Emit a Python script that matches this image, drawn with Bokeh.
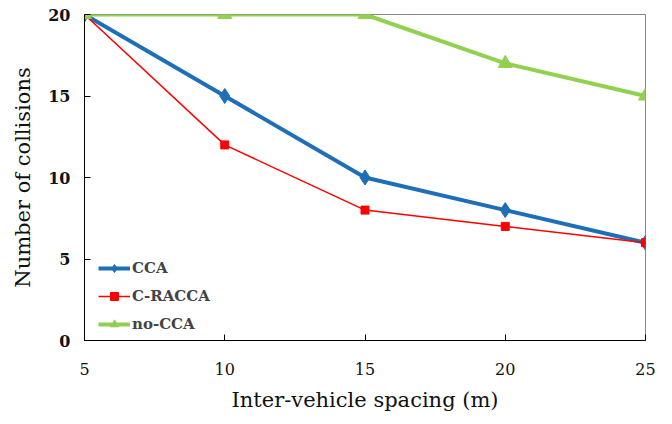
from bokeh.plotting import figure
from bokeh.models import Range1d, FixedTicker, Legend, LegendItem
from bokeh.embed import file_html
from bokeh.resources import INLINE

spacing = [5, 10, 15, 20, 25]
cca = [20, 15, 10, 8, 6]
c_racca = [20, 12, 8, 7, 6]
no_cca = [20, 20, 20, 17, 15]
x_ticks = [5, 10, 15, 20, 25]
y_ticks = [0, 5, 10, 15, 20]

p = figure(width=672, height=424, output_backend="svg", toolbar_location=None,
           x_range=Range1d(5, 25), y_range=Range1d(0, 20),
           min_border_left=84, min_border_right=27, min_border_top=14, min_border_bottom=84)
p.grid.visible = False
p.outline_line_color = "#888888"
p.outline_line_width = 1
p.background_fill_color = "white"

serif = "DejaVu Serif"
for ax in (p.xaxis[0], p.yaxis[0]):
    ax.axis_line_color = "black"
    ax.axis_line_width = 1
    ax.major_tick_in = 6
    ax.major_tick_out = 0
    ax.minor_tick_line_color = None
    ax.major_label_text_font = serif
    ax.axis_label_text_font = serif
    ax.axis_label_text_font_style = "normal"
    ax.axis_label_text_color = "#111111"
    ax.major_label_text_color = "#111111"

p.xaxis.ticker = FixedTicker(ticks=x_ticks)
p.yaxis.ticker = FixedTicker(ticks=y_ticks)
p.xaxis.major_label_text_font_size = "16px"
p.yaxis.major_label_text_font_size = "16px"
p.yaxis.major_label_text_font_style = "bold"
p.xaxis.major_label_standoff = 22
p.yaxis.major_label_standoff = 14
p.xaxis.axis_label = "Inter-vehicle spacing (m)"
p.yaxis.axis_label = "Number of collisions"
p.xaxis.axis_label_text_font_size = "21px"
p.yaxis.axis_label_text_font_size = "21px"
p.xaxis.axis_label_standoff = 10
p.yaxis.axis_label_standoff = 10

blue = "#1F6FB8"
red = "#FF0000"
green = "#92D050"

l1 = p.line(spacing, cca, line_color=blue, line_width=4)
m1 = p.scatter(spacing, cca, marker="diamond", size=15, fill_color=blue, line_color=blue)
l2 = p.line(spacing, c_racca, line_color=red, line_width=1.5)
m2 = p.scatter(spacing, c_racca, marker="square", size=8, fill_color=red, line_color=red)
l3 = p.line(spacing, no_cca, line_color=green, line_width=4)
m3 = p.scatter(spacing, no_cca, marker="triangle", size=14, fill_color=green, line_color=green)

legend = Legend(items=[LegendItem(label="CCA", renderers=[l1, m1]),
                       LegendItem(label="C-RACCA", renderers=[l2, m2]),
                       LegendItem(label="no-CCA", renderers=[l3, m3])],
                location=(14, 6), background_fill_alpha=0, border_line_color=None,
                label_text_font=serif, label_text_font_style="bold",
                label_text_font_size="15px", glyph_width=32, spacing=8,
                label_standoff=2, padding=4, margin=0)
p.add_layout(legend, "center")

open("out.html", "w").write(file_html(p, INLINE))
